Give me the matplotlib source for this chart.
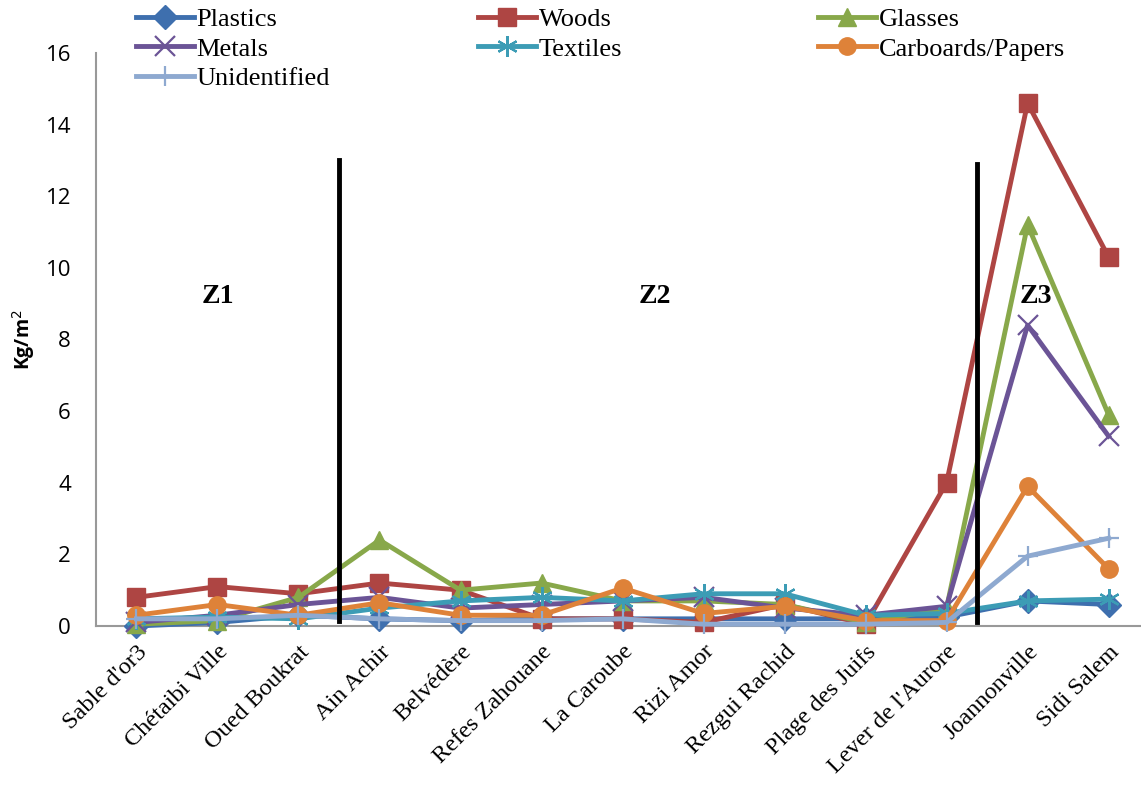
import matplotlib
matplotlib.use('Agg')
import matplotlib.pyplot as plt
from matplotlib.legend import Legend
import numpy as np

sites = ["Sable d'or3", "Chétaibi Ville", "Oued Boukrat", "Ain Achir", "Belvédère",
         "Refes Zahouane", "La Caroube", "Rizi Amor", "Rezgui Rachid", "Plage des Juifs",
         "Lever de l'Aurore", "Joannonville", "Sidi Salem"]

plastics = [0.0, 0.1, 0.3, 0.2, 0.15, 0.2, 0.2, 0.2, 0.2, 0.2, 0.25, 0.7, 0.6]
woods = [0.8, 1.1, 0.9, 1.2, 1.0, 0.2, 0.2, 0.1, 0.6, 0.05, 4.0, 14.6, 10.3]
glasses = [0.05, 0.15, 0.8, 2.4, 1.0, 1.2, 0.7, 0.7, 0.6, 0.1, 0.5, 11.2, 5.9]
metals = [0.1, 0.3, 0.6, 0.8, 0.5, 0.6, 0.7, 0.8, 0.5, 0.3, 0.55, 8.4, 5.3]
textiles = [0.2, 0.25, 0.2, 0.5, 0.7, 0.8, 0.7, 0.9, 0.9, 0.3, 0.35, 0.7, 0.75]
cardboards = [0.3, 0.6, 0.3, 0.65, 0.3, 0.3, 1.06, 0.35, 0.55, 0.15, 0.15, 3.9, 1.6]
unidentified = [0.2, 0.2, 0.3, 0.2, 0.15, 0.15, 0.2, 0.05, 0.05, 0.05, 0.1, 1.95, 2.45]

series = [
    ("Plastics", plastics, "#3E6FAE", "D"),
    ("Woods", woods, "#AE4543", "s"),
    ("Glasses", glasses, "#88A84A", "^"),
    ("Metals", metals, "#6B5496", "x"),
    ("Textiles", textiles, "#3C9CB5", (6, 2, 0)),
    ("Carboards/Papers", cardboards, "#DE8239", "o"),
    ("Unidentified", unidentified, "#8EA9D0", "+"),
]

# zone separators (x position, top, bottom) and labels
separators = [(2.5, 13.0, 0.15), (10.37, 12.9, 0.1)]
zones = [("Z1", 1.0), ("Z2", 6.4), ("Z3", 11.1)]

fig = plt.figure(figsize=(11.41, 7.92), dpi=100)
ax = fig.add_axes([0.0841, 0.2096, 0.923, 0.7235])

x = np.arange(len(sites))
handles = []
for name, vals, col, mk in series:
    thin = mk in ("x", "+", (6, 2, 0))
    h, = ax.plot(x, vals, color=col, lw=3.5, marker=mk,
                 markersize=15 if thin else 12.5,
                 markeredgewidth=1.6 if thin else 1,
                 markeredgecolor=col, label=name, clip_on=False, zorder=3)
    handles.append(h)

for xs, top, bot in separators:
    ax.plot([xs, xs], [bot, top], color="black", lw=3.5, zorder=4)

for lab, xs in zones:
    ax.text(xs, 9.2, lab, ha="center", va="center", fontsize=20,
            fontweight="bold", family="Liberation Serif")

ax.set_xlim(-0.5, 12.5)
ax.set_ylim(0, 16)
ax.set_yticks(np.arange(0, 17, 2))
ax.set_xticks(x)
ax.set_xticklabels(sites, rotation=45, ha="right", rotation_mode="anchor",
                   family="Liberation Serif", fontsize=17.5)
for t in ax.get_yticklabels():
    t.set_family("Open Sans")
    t.set_fontsize(16)
ax.tick_params(axis="y", length=0, pad=18)
ax.tick_params(axis="x", length=0, pad=11)
ax.set_ylabel("Kg/m$^2$", fontsize=14, fontweight="bold", family="Open Sans", labelpad=6)

for s in ("top", "right"):
    ax.spines[s].set_visible(False)
for s in ("left", "bottom"):
    ax.spines[s].set_color("#999999")
    ax.spines[s].set_linewidth(1.5)

# legend: three columns filled row by row
cols = [[0, 3, 6], [1, 4], [2, 5]]
col_x = [136, 478, 818]
for idx, cx in zip(cols, col_x):
    leg = Legend(fig, [handles[i] for i in idx], [series[i][0] for i in idx],
                 loc="upper left", bbox_to_anchor=(cx / 1141, 0.99),
                 bbox_transform=fig.transFigure, frameon=False,
                 prop={"family": "Liberation Serif", "size": 19},
                 handlelength=2.2, handletextpad=0.1, labelspacing=0.22,
                 borderaxespad=0, borderpad=0)
    fig.add_artist(leg)

fig.savefig("out.png", dpi=100)
